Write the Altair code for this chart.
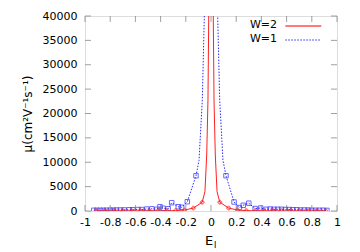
import altair as alt
import pandas as pd

# W=1 (blue squares, dotted line)
w1_x = [-0.93, -0.905, -0.88, -0.855, -0.83, -0.80, -0.775, -0.75, -0.72, -0.69,
        -0.65, -0.62, -0.58, -0.55, -0.51, -0.47, -0.43, -0.405, -0.38, -0.34,
        -0.312, -0.26, -0.233, -0.188, -0.119,
        0.119, 0.183, 0.225, 0.256, 0.30, 0.35, 0.394, 0.437, 0.47, 0.50, 0.53,
        0.56, 0.59, 0.62, 0.65, 0.68, 0.71, 0.74, 0.77, 0.80, 0.83, 0.86, 0.89, 0.92]
w1_y = [150, 150, 150, 150, 160, 170, 170, 200, 200, 220,
        250, 250, 300, 300, 400, 450, 350, 880, 570, 450,
        1700, 880, 760, 1900, 7240,
        7240, 1850, 700, 1170, 1600, 500, 615, 350, 400, 350, 350,
        350, 300, 300, 250, 250, 200, 200, 200, 150, 150, 150, 150, 120]
# W=1 curve near the centre (goes off the top)
w1c_x = [-0.095, -0.069, -0.053, 0.0, 0.053, 0.069, 0.095]
w1c_y = [10400, 22770, 40000, 300000, 40000, 22770, 10400]

# W=2 (red plus markers, solid line)
w2_x = [-0.91, -0.84, -0.77, -0.70, -0.63, -0.56, -0.49, -0.42, -0.35, -0.28,
        -0.21, -0.14, -0.07, 0.07, 0.14, 0.21, 0.28, 0.35, 0.42, 0.49, 0.56,
        0.63, 0.70, 0.77, 0.84, 0.91]
w2_y = [30, 30, 30, 30, 30, 30, 40, 40, 50, 80,
        200, 600, 1800, 1800, 600, 200, 80, 50, 40, 40, 30,
        30, 30, 30, 30, 30]
# W=2 curve near the centre
w2c_x = [-0.048, -0.034, -0.024, -0.018, 0.0, 0.018, 0.024, 0.034, 0.048]
w2c_y = [3960, 11490, 22770, 40000, 400000, 40000, 22770, 11490, 3960]

x_ticks = [-1, -0.8, -0.6, -0.4, -0.2, 0, 0.2, 0.4, 0.6, 0.8, 1]
y_ticks = [0, 5000, 10000, 15000, 20000, 25000, 30000, 35000, 40000]

# legend entries and the x-span (data units) of their sample lines
leg_names = ["W=2", "W=1"]
leg_span = [0.59, 0.875]

W, H = 252, 195
FONT = "DejaVu Sans"
AX = "#777777"
RED = "#ff2020"
BLUE = "#2a2aff"

pts1 = pd.DataFrame({"x": w1_x, "y": w1_y})
line1 = pd.DataFrame({"x": w1_x + w1c_x, "y": w1_y + w1c_y}).sort_values("x")
pts2 = pd.DataFrame({"x": w2_x, "y": w2_y})
line2 = pd.DataFrame({"x": w2_x + w2c_x, "y": w2_y + w2c_y}).sort_values("x")

xs = alt.Scale(domain=[-1, 1], nice=False, zero=False)
ys = alt.Scale(domain=[0, 40000], nice=False)

xax = alt.Axis(values=x_ticks, title=None, grid=False, ticks=False, domain=False,
               labelExpr="toString(round(datum.value*10)/10)", labelFont=FONT,
               labelFontSize=11, labelColor="black", labelPadding=5, labelFlush=False,
               labelOverlap=False)
yax = alt.Axis(values=y_ticks, title="μ(cm²V⁻¹s⁻¹)", grid=False, ticks=False, domain=False,
               labelFont=FONT, labelFontSize=11, labelColor="black", labelPadding=8,
               labelOverlap=False, format="d", titleFont=FONT, titleFontSize=12,
               titleFontWeight="normal", titleColor="black", titlePadding=8)

X = alt.X("x:Q", scale=xs, axis=xax)
Y = alt.Y("y:Q", scale=ys, axis=yax)

l1 = alt.Chart(line1).mark_line(stroke=BLUE, color=BLUE, strokeDash=[1.5, 1.5], strokeWidth=1,
                                clip=True).encode(x=X, y=Y, order="x:Q")
p1 = alt.Chart(pts1).mark_point(shape="square", size=20, color=BLUE, filled=False,
                                strokeWidth=1, clip=True).encode(x=X, y=Y)
l2 = alt.Chart(line2).mark_line(stroke=RED, color=RED, strokeWidth=1, clip=True).encode(
    x=X, y=Y, order="x:Q")
p2 = alt.Chart(pts2).mark_point(shape="cross", size=14, color=RED, filled=False,
                                strokeWidth=1, clip=True).encode(x=X, y=Y)

xt = pd.DataFrame({"x": x_ticks})
yt = pd.DataFrame({"y": y_ticks})
tick_b = alt.Chart(xt).mark_tick(color=AX, size=6, thickness=1, orient="vertical").encode(
    x=X, y=alt.value(H - 3))
tick_t = alt.Chart(xt).mark_tick(color=AX, size=6, thickness=1, orient="vertical").encode(
    x=X, y=alt.value(3))
tick_l = alt.Chart(yt).mark_tick(color=AX, size=6, thickness=1, orient="horizontal").encode(
    y=Y, x=alt.value(3))
tick_r = alt.Chart(yt).mark_tick(color=AX, size=6, thickness=1, orient="horizontal").encode(
    y=Y, x=alt.value(W - 3))

leg_t1 = alt.Chart(pd.DataFrame({"t": [leg_names[0]]})).mark_text(
    align="right", baseline="middle", font=FONT, fontSize=11, color="black").encode(
    text="t:N", x=alt.value(192), y=alt.value(9))
leg_t2 = alt.Chart(pd.DataFrame({"t": [leg_names[1]]})).mark_text(
    align="right", baseline="middle", font=FONT, fontSize=11, color="black").encode(
    text="t:N", x=alt.value(192), y=alt.value(23))
leg_l1 = alt.Chart(pd.DataFrame({"x": leg_span})).mark_line(
    stroke=RED, color=RED, strokeWidth=1.5, opacity=0.8).encode(x=X, y=alt.value(10))
leg_l2 = alt.Chart(pd.DataFrame({"x": leg_span})).mark_line(
    stroke=BLUE, color=BLUE, strokeWidth=1.2, strokeDash=[1.5, 1.5]).encode(x=X, y=alt.value(24))

xt_e = alt.Chart(pd.DataFrame({"t": ["E"]})).mark_text(
    align="center", baseline="alphabetic", font=FONT, fontSize=13, color="black").encode(
    text="t:N", x=alt.value(124), y=alt.value(H + 34))
xt_i = alt.Chart(pd.DataFrame({"t": ["I"]})).mark_text(
    align="left", baseline="alphabetic", font=FONT, fontSize=8, color="black").encode(
    text="t:N", x=alt.value(129), y=alt.value(H + 37))

chart = alt.layer(l1, p1, l2, p2, tick_b, tick_t, tick_l, tick_r,
                  leg_t1, leg_t2, leg_l1, leg_l2, xt_e, xt_i).properties(
    width=W, height=H, autosize="none",
    padding={"left": 77, "top": 8, "right": 14, "bottom": 41},
).configure_view(stroke=AX, strokeWidth=1).configure_axis(
    labelOverlap=False
).configure(background="white")

chart.save("out.html", embed_options={"renderer": "svg", "actions": False})
